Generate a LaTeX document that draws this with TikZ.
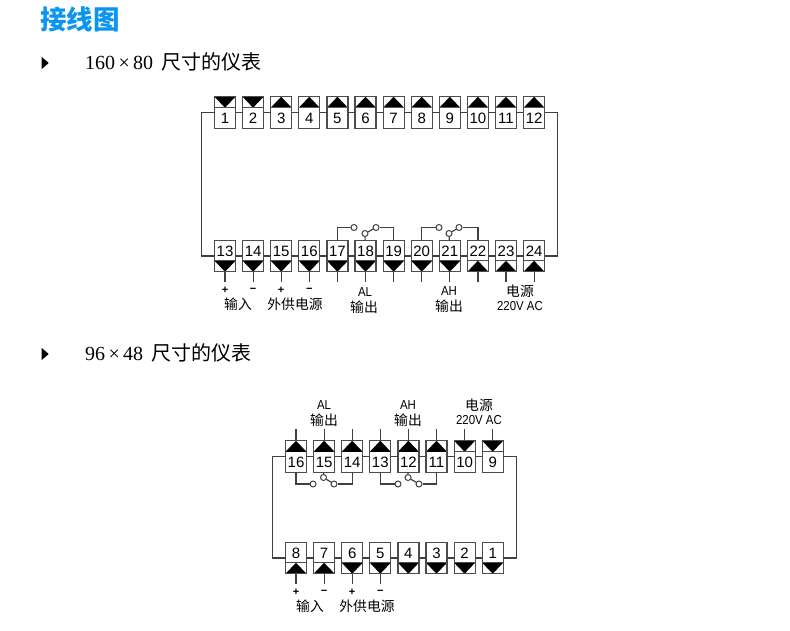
\documentclass[tikz,border=0pt]{standalone}
\usepackage{fontspec}
\setmainfont{Liberation Serif}
\newfontfamily\numfont{Liberation Sans}
\newfontfamily\narrowfont[FakeStretch=0.88]{Liberation Sans}
\newfontfamily\cjk{Noto Sans CJK SC}
\usetikzlibrary{positioning,shapes.geometric}
\definecolor{titleblue}{RGB}{10,150,240}

\begin{document}
\begin{tikzpicture}[
            x=1pt, y=-1pt,
            node distance=7.1pt,
            wire/.style={draw=black!75, line width=1.2pt},
            term/.style={rectangle, draw=black!70, line width=1.2pt, fill=white, inner sep=0pt, outer sep=0pt,
              text width=21pt, minimum width=21pt, align=center, font=\numfont\fontsize{15}{15}\selectfont},
            % terminals whose number sits low, the cap is on top
            topup/.style={term, text height=26.5pt, text depth=5pt, path picture={
                \fill[black] (path picture bounding box.north)
                  -- ([yshift=-11pt]path picture bounding box.north east)
                  -- ([yshift=-11pt]path picture bounding box.north west) -- cycle;}},
            topdown/.style={term, text height=26.5pt, text depth=5pt, path picture={
                \fill[black] (path picture bounding box.north west)
                  -- (path picture bounding box.north east)
                  -- ([yshift=-11pt]path picture bounding box.north) -- cycle;
                \draw[black!70, line width=1.2pt] ([yshift=-11pt]path picture bounding box.north west)
                  -- ([yshift=-11pt]path picture bounding box.north east);}},
            % terminals whose number sits high, the cap is below
            lowup/.style={term, text height=16pt, text depth=15.5pt, path picture={
                \fill[black] (path picture bounding box.south west)
                  -- (path picture bounding box.south east)
                  -- ([yshift=11pt]path picture bounding box.south) -- cycle;
                \draw[black!70, line width=1.2pt] ([yshift=11pt]path picture bounding box.south west)
                  -- ([yshift=11pt]path picture bounding box.south east);}},
            lowdown/.style={term, text height=16pt, text depth=15.5pt, path picture={
                \fill[black] ([yshift=11pt]path picture bounding box.south west)
                  -- ([yshift=11pt]path picture bounding box.south east)
                  -- (path picture bounding box.south) -- cycle;
                \draw[black!70, line width=1.2pt] ([yshift=11pt]path picture bounding box.south west)
                  -- ([yshift=11pt]path picture bounding box.south east);}},
            contact/.style={circle, draw=black!75, line width=1pt, fill=white, minimum size=6pt, inner sep=0pt},
            sign/.style={minimum height=16pt, inner sep=0pt, font=\numfont\bfseries\fontsize{11}{11}\selectfont},
            cjklabel/.style={inner sep=0pt, font=\cjk\fontsize{13.8}{13.8}\selectfont},
            latinlabel/.style={inner sep=0pt, font=\narrowfont\fontsize{13}{13}\selectfont},
            heading/.style={anchor=west, inner sep=0pt, font=\fontsize{20}{20}\selectfont},
            bullet/.style={isosceles triangle, isosceles triangle stretches, fill=black,
              minimum width=12pt, minimum height=7pt, inner sep=0pt}
          ]

          \useasboundingbox (0,0) rectangle (790,631);

          % Headings
          \node[inner sep=0pt, text=titleblue, font=\cjk\bfseries\fontsize{26.5}{26.5}\selectfont] (title) at (80,19) {接线图};
          \node[bullet] (mark1) at (44.5,63) {};
          \node[heading] (size1) at (85,62) {160\,×\,80\hspace{8pt}{\cjk 尺寸的仪表}};
          \node[bullet] (mark2) at (44.5,354) {};
          \node[heading] (size2) at (85,353) {96\,×\,48\hspace{8pt}{\cjk 尺寸的仪表}};

          % Nodes of the first meter
          \node[topdown] (a1) at (225,112.5) {1};
          \node[topdown, right=of a1] (a2) {2};
          \node[topup, right=of a2] (a3) {3};
          \node[topup, right=of a3] (a4) {4};
          \node[topup, right=of a4] (a5) {5};
          \node[topup, right=of a5] (a6) {6};
          \node[topup, right=of a6] (a7) {7};
          \node[topup, right=of a7] (a8) {8};
          \node[topup, right=of a8] (a9) {9};
          \node[topup, right=of a9] (a10) {10};
          \node[topup, right=of a10] (a11) {11};
          \node[topup, right=of a11] (a12) {12};
          \node[lowdown, below=112pt of a1] (a13) {13};
          \node[lowdown, right=of a13] (a14) {14};
          \node[lowdown, right=of a14] (a15) {15};
          \node[lowdown, right=of a15] (a16) {16};
          \node[lowdown, right=of a16] (a17) {17};
          \node[lowdown, right=of a17] (a18) {18};
          \node[lowdown, right=of a18] (a19) {19};
          \node[lowdown, right=of a19] (a20) {20};
          \node[lowdown, right=of a20] (a21) {21};
          \node[lowup, right=of a21] (a22) {22};
          \node[lowup, right=of a22] (a23) {23};
          \node[lowup, right=of a23] (a24) {24};

          % Signs and free ends below the first meter
          \node[sign, below=10pt of a13] (ap13) {+};
          \node[sign, below=10pt of a14] (ap14) {−};
          \node[sign, below=10pt of a15] (ap15) {+};
          \node[sign, below=10pt of a16] (ap16) {−};
          \coordinate[below=10pt of a17] (ae17);
          \coordinate[below=10pt of a18] (ae18);
          \coordinate[below=10pt of a19] (ae19);
          \coordinate[below=10pt of a20] (ae20);
          \coordinate[below=10pt of a21] (ae21);
          \coordinate[below=10pt of a22] (ae22);
          \coordinate[below=10pt of a23] (ae23);
          \coordinate[below=10pt of a24] (ae24);

          % Labels of the first meter
          \node[cjklabel] (ainput) at (238,304) {输入};
          \node[cjklabel] (asupply) at (295,304) {外供电源};
          \node[latinlabel] (aal) at (365,292) {AL};
          \node[cjklabel] (aalout) at (364,307) {输出};
          \node[latinlabel] (aah) at (449,291) {AH};
          \node[cjklabel] (aahout) at (449,306) {输出};
          \node[cjklabel] (apower) at (520,291) {电源};
          \node[latinlabel] (avolt) at (520,306) {220V AC};

          % Contacts of the first meter
          \node[contact] (ak17) at (354,227.5) {};
          \node[contact] (ak18) at (365,233.5) {};
          \node[contact] (am18) at (376,227.5) {};
          \node[contact] (ak20) at (439,227.5) {};
          \node[contact] (ak21) at (449,233.5) {};
          \node[contact] (am21) at (459,227.5) {};

          % Edges of the first meter
          \draw[wire] (a1) -- (a2);
          \draw[wire] (a2) -- (a3);
          \draw[wire] (a3) -- (a4);
          \draw[wire] (a4) -- (a5);
          \draw[wire] (a5) -- (a6);
          \draw[wire] (a6) -- (a7);
          \draw[wire] (a7) -- (a8);
          \draw[wire] (a8) -- (a9);
          \draw[wire] (a9) -- (a10);
          \draw[wire] (a10) -- (a11);
          \draw[wire] (a11) -- (a12);
          \draw[wire] (a13) -- (a14);
          \draw[wire] (a14) -- (a15);
          \draw[wire] (a15) -- (a16);
          \draw[wire] (a16) -- (a17);
          \draw[wire] (a17) -- (a18);
          \draw[wire] (a18) -- (a19);
          \draw[wire] (a19) -- (a20);
          \draw[wire] (a20) -- (a21);
          \draw[wire] (a21) -- (a22);
          \draw[wire] (a22) -- (a23);
          \draw[wire] (a23) -- (a24);
          \draw[wire] (a1.west) -- ++(-13,0) |- (a13.west);
          \draw[wire] (a12.east) -- ++(13,0) |- (a24.east);
          \draw[wire] (a13) -- (ap13);
          \draw[wire] (a14) -- (ap14);
          \draw[wire] (a15) -- (ap15);
          \draw[wire] (a16) -- (ap16);
          \draw[wire] (a17) -- (ae17);
          \draw[wire] (a18) -- (ae18);
          \draw[wire] (a19) -- (ae19);
          \draw[wire] (a20) -- (ae20);
          \draw[wire] (a21) -- (ae21);
          \draw[wire] (a22) -- (ae22);
          \draw[wire] (a23) -- (ae23);
          \draw[wire] (a24) -- (ae24);
          \draw[wire] (a17) |- (ak17);
          \draw[wire] (a18) -- (ak18);
          \draw[wire] (ak18) -- (am18);
          \draw[wire] (am18) -| (a19);
          \draw[wire] (a20) |- (ak20);
          \draw[wire] (a21) -- (ak21);
          \draw[wire] (ak21) -- (am21);
          \draw[wire] (am21) -| (a22);

          % Nodes of the second meter
          \node[topup] (b16) at (296,456.5) {16};
          \node[topup, right=of b16] (b15) {15};
          \node[topup, right=of b15] (b14) {14};
          \node[topup, right=of b14] (b13) {13};
          \node[topup, right=of b13] (b12) {12};
          \node[topup, right=of b12] (b11) {11};
          \node[topdown, right=of b11] (b10) {10};
          \node[topdown, right=of b10] (b9) {9};
          \node[lowup, below=70pt of b16] (b8) {8};
          \node[lowup, right=of b8] (b7) {7};
          \node[lowdown, right=of b7] (b6) {6};
          \node[lowdown, right=of b6] (b5) {5};
          \node[lowdown, right=of b5] (b4) {4};
          \node[lowdown, right=of b4] (b3) {3};
          \node[lowdown, right=of b3] (b2) {2};
          \node[lowdown, right=of b2] (b1) {1};

          % Signs and free ends of the second meter
          \coordinate[above=12pt of b16] (be16);
          \coordinate[above=12pt of b15] (be15);
          \coordinate[above=12pt of b14] (be14);
          \coordinate[above=12pt of b13] (be13);
          \coordinate[above=12pt of b12] (be12);
          \coordinate[above=12pt of b11] (be11);
          \coordinate[above=12pt of b10] (be10);
          \coordinate[above=12pt of b9] (be9);
          \node[sign, below=10pt of b8] (bp8) {+};
          \node[sign, below=10pt of b7] (bp7) {−};
          \node[sign, below=10pt of b6] (bp6) {+};
          \node[sign, below=10pt of b5] (bp5) {−};

          % Labels of the second meter
          \node[latinlabel] (bal) at (324,405) {AL};
          \node[cjklabel] (balout) at (324,420) {输出};
          \node[latinlabel] (bah) at (408,405) {AH};
          \node[cjklabel] (bahout) at (408,420) {输出};
          \node[cjklabel] (bpower) at (479,405) {电源};
          \node[latinlabel] (bvolt) at (479,420) {220V AC};
          \node[cjklabel] (binput) at (310,606) {输入};
          \node[cjklabel] (bsupply) at (367,606) {外供电源};

          % Contacts of the second meter
          \node[contact] (bk16) at (313,484) {};
          \node[contact] (bk15) at (323.5,477.5) {};
          \node[contact] (bm15) at (334,484) {};
          \node[contact] (bk13) at (398,484) {};
          \node[contact] (bk12) at (408,477.5) {};
          \node[contact] (bm12) at (419,484) {};

          % Edges of the second meter
          \draw[wire] (b16) -- (b15);
          \draw[wire] (b15) -- (b14);
          \draw[wire] (b14) -- (b13);
          \draw[wire] (b13) -- (b12);
          \draw[wire] (b12) -- (b11);
          \draw[wire] (b11) -- (b10);
          \draw[wire] (b10) -- (b9);
          \draw[wire] (b8) -- (b7);
          \draw[wire] (b7) -- (b6);
          \draw[wire] (b6) -- (b5);
          \draw[wire] (b5) -- (b4);
          \draw[wire] (b4) -- (b3);
          \draw[wire] (b3) -- (b2);
          \draw[wire] (b2) -- (b1);
          \draw[wire] (b16.west) -- ++(-13,0) |- (b8.west);
          \draw[wire] (b9.east) -- ++(13,0) |- (b1.east);
          \draw[wire] (b16) -- (be16);
          \draw[wire] (b15) -- (be15);
          \draw[wire] (b14) -- (be14);
          \draw[wire] (b13) -- (be13);
          \draw[wire] (b12) -- (be12);
          \draw[wire] (b11) -- (be11);
          \draw[wire] (b10) -- (be10);
          \draw[wire] (b9) -- (be9);
          \draw[wire] (b8) -- (bp8);
          \draw[wire] (b7) -- (bp7);
          \draw[wire] (b6) -- (bp6);
          \draw[wire] (b5) -- (bp5);
          \draw[wire] (b16) |- (bk16);
          \draw[wire] (b15) -- (bk15);
          \draw[wire] (bk15) -- (bm15);
          \draw[wire] (bm15) -| (b14);
          \draw[wire] (b13) |- (bk13);
          \draw[wire] (b12) -- (bk12);
          \draw[wire] (bk12) -- (bm12);
          \draw[wire] (bm12) -| (b11);

        \end{tikzpicture}
\end{document}
